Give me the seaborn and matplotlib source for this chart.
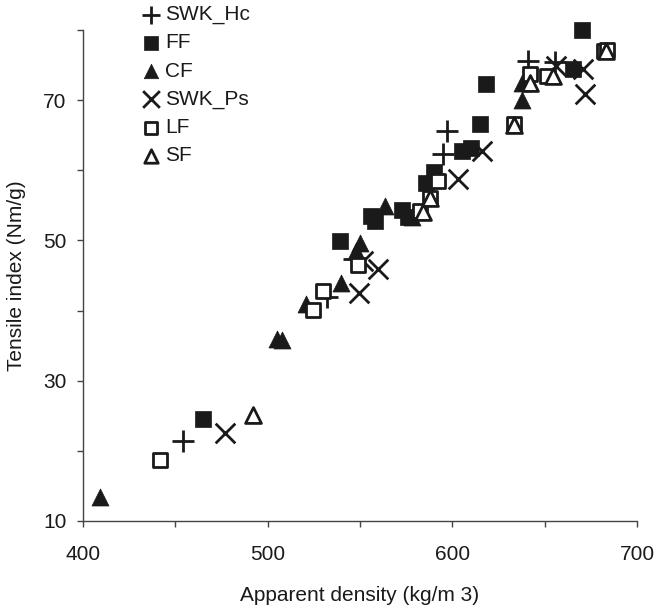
import matplotlib
matplotlib.use("Agg")
import matplotlib.pyplot as plt
import seaborn as sns
import pandas as pd

# ---- data ----
swk_hc_x = [454, 532, 547, 595, 597, 641, 655.5]
swk_hc_y = [21.4, 42.0, 47.3, 62.3, 65.6, 75.6, 75.4]

ff_x = [465, 539, 556, 558, 572.5, 576, 586, 590, 605, 610, 615, 618.5, 665.5, 670]
ff_y = [24.6, 49.9, 53.5, 52.8, 54.4, 53.4, 58.2, 59.8, 62.8, 63.2, 66.6, 72.3, 74.4, 80.0]

cf_x = [409, 505, 508, 520.7, 539.7, 548, 550, 563.5, 578, 637.5, 637.5]
cf_y = [13.4, 35.9, 35.8, 41.0, 44.0, 48.5, 49.6, 54.9, 53.4, 70.0, 72.4]

swk_ps_x = [477, 549.4, 551.7, 559.8, 603, 615.8, 656, 671, 672]
swk_ps_y = [22.5, 42.5, 47.0, 45.9, 58.8, 62.8, 74.9, 74.5, 70.9]

lf_x = [441.7, 524.7, 529.7, 549, 582.5, 587.9, 592.4, 633.4, 642, 651, 682, 684]
lf_y = [18.7, 40.1, 42.8, 46.5, 54.2, 56.0, 58.5, 66.6, 73.7, 73.5, 77.0, 77.2]

sf_x = [492, 584, 588, 633.5, 642.3, 654.5, 683]
sf_y = [25.1, 54.0, 56.1, 66.4, 72.5, 73.5, 77.0]

x_ticks = [400, 450, 500, 550, 600, 650, 700]
x_ticklabels = ["400", "", "500", "", "600", "", "700"]
y_ticks = [10, 20, 30, 40, 50, 60, 70, 80]
y_ticklabels = ["10", "", "30", "", "50", "", "70", ""]

INK = "#1a1a1a"
series = [
    ("SWK_Hc", swk_hc_x, swk_hc_y, dict(marker="+", s=230, linewidth=2.0, color=INK)),
    ("FF", ff_x, ff_y, dict(marker="s", s=125, linewidth=0.5, color=INK, edgecolor=INK)),
    ("CF", cf_x, cf_y, dict(marker="^", s=150, linewidth=0.5, color=INK, edgecolor=INK)),
    ("SWK_Ps", swk_ps_x, swk_ps_y, dict(marker="x", s=200, linewidth=2.0, color=INK)),
    ("LF", lf_x, lf_y, dict(marker="s", s=110, linewidth=2.0, facecolor="white", edgecolor=INK)),
    ("SF", sf_x, sf_y, dict(marker="^", s=130, linewidth=2.0, facecolor="white", edgecolor=INK)),
]

sns.set_style("ticks")
plt.rcParams["font.family"] = ["Liberation Sans", "DejaVu Sans"]

fig = plt.figure(figsize=(6.56, 6.10), dpi=100)
ax = fig.add_axes([83 / 656, 1 - 521 / 610, (637 - 83) / 656, (521 - 30) / 610])

for name, xs, ys, kw in series:
    df = pd.DataFrame({"x": xs, "y": ys})
    sns.scatterplot(data=df, x="x", y="y", ax=ax, label=name, clip_on=False, zorder=3, **kw)

ax.set_xlim(400, 700)
ax.set_ylim(10, 80)
ax.set_xticks(x_ticks)
ax.set_xticklabels(x_ticklabels)
ax.set_yticks(y_ticks)
ax.set_yticklabels(y_ticklabels)
ax.tick_params(direction="out", length=4, width=1, color="#444444", labelsize=15, labelcolor=INK)
ax.tick_params(axis="x", pad=13)
ax.tick_params(axis="y", pad=8)
for side in ["top", "right"]:
    ax.spines[side].set_visible(False)
for side in ["left", "bottom"]:
    ax.spines[side].set_color("#444444")
    ax.spines[side].set_linewidth(1.0)

ax.set_xlabel("Apparent density (kg/m 3)", fontsize=15, labelpad=16, color=INK)
ax.set_ylabel("Tensile index (Nm/g)", fontsize=15, labelpad=12, color=INK)

leg = ax.legend(loc="upper left", bbox_to_anchor=(140 / 656, 1 - 5 / 610),
                bbox_transform=fig.transFigure, frameon=False, fontsize=15,
                handletextpad=0.1, labelspacing=0.44, borderaxespad=0, borderpad=0,
                markerscale=0.85, handlelength=1.1)
for t in leg.get_texts():
    t.set_color(INK)

fig.savefig("out.png", dpi=100)
